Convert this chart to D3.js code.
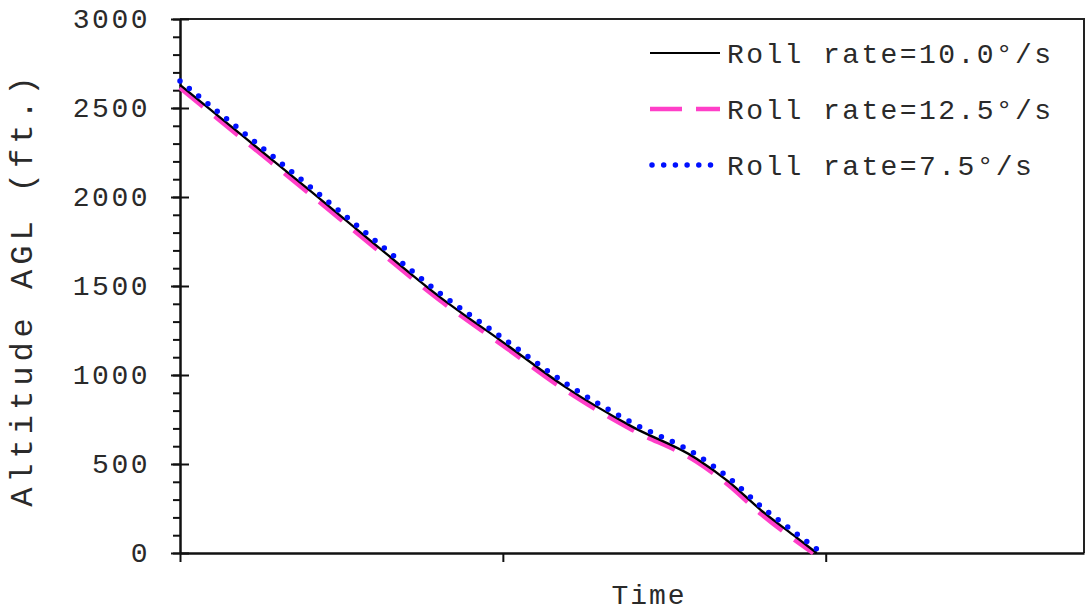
<!DOCTYPE html>
<html><head><meta charset="utf-8">
<script src="https://cdn.jsdelivr.net/npm/d3@7"></script>
<style>body{margin:0;background:#fff}svg{display:block}text{font-family:"Liberation Mono","Courier New",monospace;fill:#2a2a2a}</style>
</head><body><svg id="c" width="1089" height="613"></svg>
<script>
const seriesNames = ["Roll rate=10.0°/s", "Roll rate=12.5°/s", "Roll rate=7.5°/s"];
const time10 = [0, 0.2, 0.4, 0.6, 0.8, 1.0, 1.2, 1.4, 1.6, 1.7, 1.8, 1.9, 1.972];
const alt10  = [2630, 2335, 2040, 1740, 1445, 1185, 925, 710, 530, 400, 240, 100, 0];
const time125 = [0, 0.2, 0.4, 0.6, 0.8, 1.0, 1.2, 1.4, 1.6, 1.7, 1.8, 1.9, 1.962];
const alt125  = [2615, 2318, 2022, 1722, 1428, 1168, 908, 694, 514, 382, 220, 80, 0];
const time75 = [0, 0.2, 0.4, 0.6, 0.8, 1.0, 1.2, 1.4, 1.6, 1.7, 1.8, 1.9, 1.975];
const alt75  = [2652, 2357, 2062, 1762, 1467, 1207, 947, 732, 552, 422, 262, 122, 18];
const yTicks = [0, 500, 1000, 1500, 2000, 2500, 3000];
const xTicks = [0, 1, 2];

const svg = d3.select("#c");
const L = 180, R = 1084, T = 19, B = 553;
const x = d3.scaleLinear().domain([0, 2.8]).range([L, R]);
const y = d3.scaleLinear().domain([0, 3000]).range([B, T]);

// frame
svg.append("path").attr("d", `M${L},${T}H${R}V${B}`).attr("fill","none").attr("stroke","#222").attr("stroke-width",2);

// minor y ticks
const yMinor = svg.append("g").attr("transform",`translate(${L},0)`)
  .call(d3.axisLeft(y).tickValues(d3.range(0, 3001, 100)).tickSize(7).tickFormat(""));
yMinor.select(".domain").remove();
yMinor.selectAll("line").attr("stroke","#111").attr("stroke-width",2);

// major y ticks (crossing)
const yMajor = svg.append("g").attr("transform",`translate(${L},0)`)
  .call(d3.axisLeft(y).tickValues(yTicks).tickFormat(d3.format("d")).tickSizeOuter(0).tickSizeInner(9).tickPadding(21));
yMajor.select(".domain").attr("stroke","#111").attr("stroke-width",2.5);
yMajor.selectAll("line").attr("x2",9).attr("x1",-9).attr("stroke","#111").attr("stroke-width",2);
yMajor.selectAll("text").attr("font-size",28).attr("font-family","Liberation Mono").attr("fill","#2a2a2a").attr("letter-spacing","2.5px");

// x axis
const xAx = svg.append("g").attr("transform",`translate(0,${B})`)
  .call(d3.axisBottom(x).tickValues(xTicks).tickSize(9).tickSizeOuter(0).tickFormat(""));
xAx.select(".domain").attr("stroke","#111").attr("stroke-width",2.5);
xAx.selectAll("line").attr("stroke","#111").attr("stroke-width",2);

// lines
const line = d3.line().x(d => x(d[0])).y(d => y(d[1])).curve(d3.curveMonotoneX);
const d10 = time10.map((t,i)=>[t, alt10[i]]);
const d125 = time125.map((t,i)=>[t, alt125[i]]);
const d75 = time75.map((t,i)=>[t, alt75[i]]);
const styles = [
  {data:d10, stroke:"#000", w:2.3, dash:null, cap:"butt"},
  {data:d125, stroke:"#ff3fc8", w:5, dash:"30 15", cap:"butt"},
  {data:d75, stroke:"#0010ff", w:5.5, dash:"0 12", cap:"round"}
];
const drawOrder = [1, 0, 2];
drawOrder.forEach(i => {
  const s = styles[i];
  svg.append("path").attr("d", line(s.data)).attr("fill","none")
    .attr("stroke", s.stroke).attr("stroke-width", s.w)
    .attr("stroke-dasharray", s.dash).attr("stroke-linecap", s.cap);
});

// legend
const legY = [53, 109, 165];
seriesNames.forEach((name, i) => {
  const s = styles[i];
  const ly = legY[i];
  svg.append("line").attr("x1", i===2 ? 652 : 650).attr("x2", 720).attr("y1", ly).attr("y2", ly)
    .attr("stroke", s.stroke).attr("stroke-width", i===1 ? 4.5 : (i===0 ? 2 : s.w))
    .attr("stroke-dasharray", i===1 ? "32 14" : (i===2 ? "0 11.7" : null))
    .attr("stroke-linecap", s.cap);
  svg.append("text").attr("x", 727).attr("y", ly + 10).attr("font-size", 28)
    .attr("letter-spacing","2.4px").text(name);
});

// axis titles
svg.append("text").attr("x", 649).attr("y", 604).attr("text-anchor","middle").attr("font-size",28).attr("letter-spacing","2px").text("Time");
svg.append("text").attr("transform","translate(32,289) rotate(-90)").attr("text-anchor","middle").attr("font-size",32).attr("letter-spacing","5px").text("Altitude AGL (ft.)");
</script></body></html>
